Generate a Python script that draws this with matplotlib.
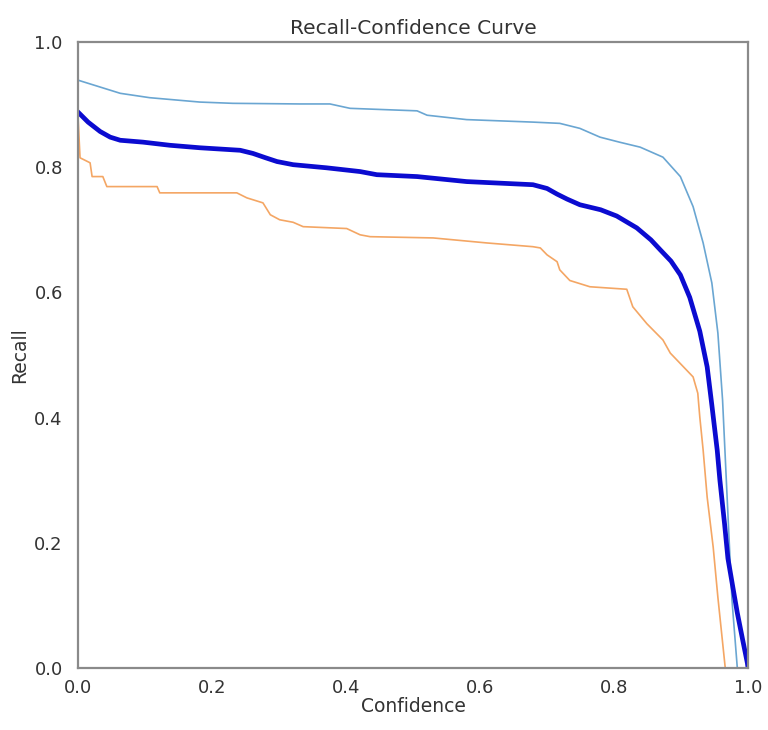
import numpy as np
import matplotlib
matplotlib.use("Agg")
import matplotlib.pyplot as plt

# recall vs confidence threshold, one curve per class plus the mean over classes
conf_a = [0.0, 0.063, 0.107, 0.182, 0.231, 0.331, 0.376, 0.406, 0.506, 0.521,
          0.580, 0.679, 0.719, 0.749, 0.779, 0.808, 0.839, 0.873, 0.899, 0.918,
          0.933, 0.946, 0.955, 0.962, 0.969, 0.976, 0.984, 1.0]
recall_a = [0.939, 0.918, 0.911, 0.904, 0.902, 0.901, 0.901, 0.894, 0.890, 0.883,
            0.876, 0.872, 0.870, 0.862, 0.848, 0.840, 0.832, 0.816, 0.785, 0.737,
            0.679, 0.615, 0.535, 0.428, 0.268, 0.109, 0.0, 0.0]

conf_b = [0.0, 0.003, 0.018, 0.021, 0.037, 0.043, 0.118, 0.122, 0.237, 0.252,
          0.276, 0.287, 0.301, 0.321, 0.336, 0.401, 0.421, 0.436, 0.530, 0.610,
          0.679, 0.690, 0.700, 0.715, 0.719, 0.734, 0.764, 0.819, 0.828, 0.849,
          0.873, 0.884, 0.918, 0.925, 0.928, 0.933, 0.939, 0.948, 0.955, 0.966, 1.0]
recall_b = [0.880, 0.815, 0.807, 0.785, 0.785, 0.769, 0.769, 0.759, 0.759, 0.751,
            0.743, 0.724, 0.716, 0.712, 0.705, 0.702, 0.692, 0.689, 0.687, 0.679,
            0.673, 0.671, 0.660, 0.649, 0.636, 0.619, 0.609, 0.605, 0.577, 0.550,
            0.524, 0.503, 0.465, 0.439, 0.401, 0.348, 0.273, 0.193, 0.113, 0.0, 0.0]

conf_mean = [0.0, 0.015, 0.033, 0.048, 0.063, 0.097, 0.137, 0.182, 0.242, 0.261,
             0.280, 0.297, 0.321, 0.371, 0.421, 0.446, 0.506, 0.580, 0.679, 0.700,
             0.715, 0.730, 0.749, 0.780, 0.804, 0.834, 0.855, 0.869, 0.885, 0.899,
             0.913, 0.928, 0.939, 0.946, 0.954, 0.958, 0.965, 0.970, 0.978, 0.984,
             0.992, 0.999, 1.0]
recall_mean = [0.888, 0.872, 0.857, 0.848, 0.843, 0.840, 0.835, 0.831, 0.827, 0.822,
               0.815, 0.809, 0.804, 0.799, 0.793, 0.788, 0.785, 0.777, 0.772, 0.766,
               0.757, 0.749, 0.740, 0.732, 0.722, 0.703, 0.684, 0.668, 0.650, 0.628,
               0.592, 0.538, 0.481, 0.420, 0.348, 0.300, 0.230, 0.175, 0.125, 0.088,
               0.045, 0.008, 0.0]

fig = plt.figure(figsize=(7.68, 7.3), dpi=100)
ax = fig.add_axes([0.1016, 0.0849, 0.8724, 0.8576])

ax.plot(conf_a, recall_a, color="#6aa6d2", linewidth=1.2)
ax.plot(conf_b, recall_b, color="#f4a664", linewidth=1.2)
ax.plot(conf_mean, recall_mean, color="#0b0bd0", linewidth=3.4,
        solid_joinstyle="round")

ax.set_xlim(0, 1)
ax.set_ylim(0, 1)
ax.set_xticks(np.arange(0, 1.01, 0.2))
ax.set_yticks(np.arange(0, 1.01, 0.2))
ax.tick_params(length=0, labelsize=13, labelcolor="#333333")
ax.tick_params(axis="y", pad=11)
ax.tick_params(axis="x", pad=8)
for s in ax.spines.values():
    s.set_color("#8a8a8a")
    s.set_linewidth(1.6)

ax.set_title("Recall-Confidence Curve", fontsize=14.5, color="#333333", pad=6)
ax.set_xlabel("Confidence", fontsize=13.5, color="#333333", labelpad=0)
ax.set_ylabel("Recall", fontsize=13.5, color="#333333", labelpad=4)

fig.savefig("out.png", dpi=100)
